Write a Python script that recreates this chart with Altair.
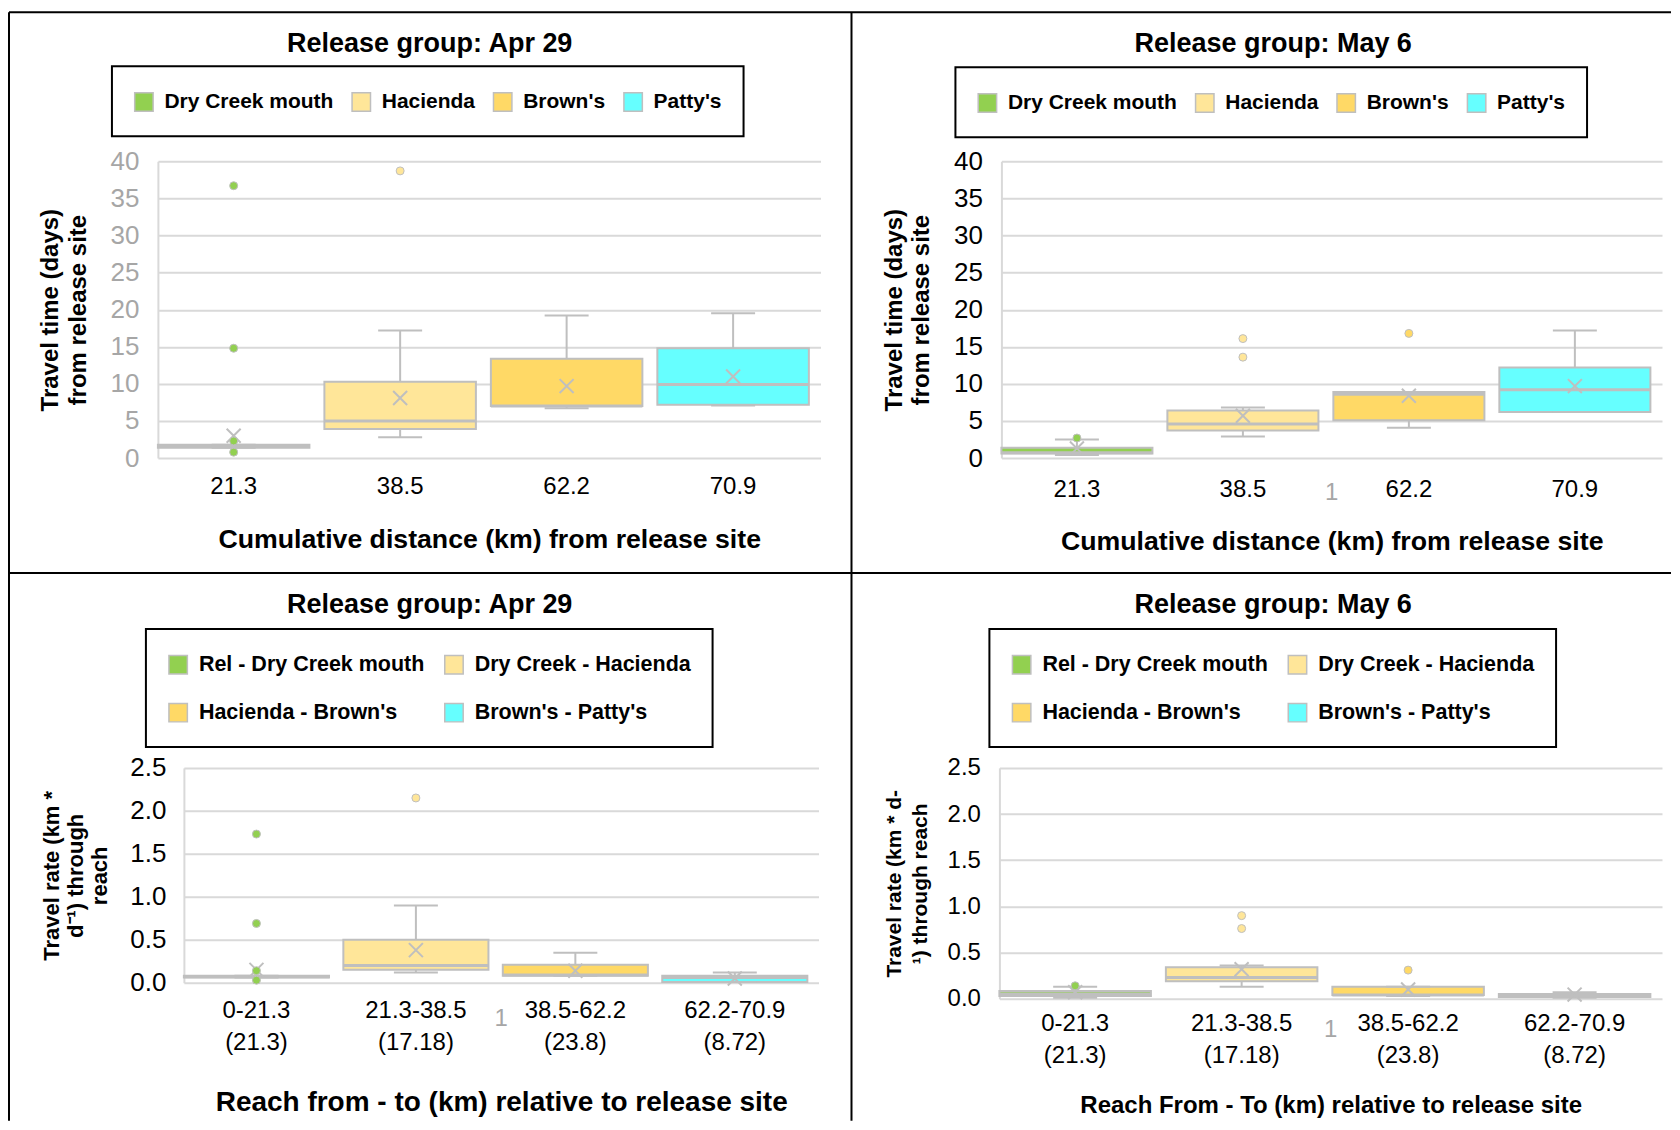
import altair as alt
import pandas as pd

FONT = "Liberation Sans, Arial, Helvetica, sans-serif"
GRAY = "#BFBFBF"
GRID = "#D9D9D9"
SERIES_COLORS = ["#92D050", "#FFE699", "#FFD966", "#66FFFF"]

# ---------------- data ----------------
top_cats = ["21.3", "38.5", "62.2", "70.9"]
top_series = ["Dry Creek mouth", "Hacienda", "Brown's", "Patty's"]
bot_cats = ["0-21.3|(21.3)", "21.3-38.5|(17.18)", "38.5-62.2|(23.8)", "62.2-70.9|(8.72)"]
bot_series = ["Rel - Dry Creek mouth", "Dry Creek - Hacienda", "Hacienda - Brown's", "Brown's - Patty's"]

# Release group Apr 29 - travel time (days)
apr_time_q1 = [1.4, 3.9, 7.0, 7.2]
apr_time_med = [1.6, 5.0, 7.0, 9.9]
apr_time_q3 = [1.8, 10.3, 13.4, 14.8]
apr_time_wlo = [1.4, 2.8, 6.7, 7.1]
apr_time_whi = [1.8, 17.2, 19.2, 19.5]
apr_time_mean = [3.0, 8.1, 9.7, 11.0]
apr_time_out = [[36.7, 14.8, 2.3, 0.8], [38.7], [], []]

# Release group May 6 - travel time (days)
may_time_q1 = [0.6, 3.7, 5.1, 6.2]
may_time_med = [0.7, 4.6, 8.6, 9.2]
may_time_q3 = [1.4, 6.4, 8.9, 12.2]
may_time_wlo = [0.4, 2.9, 4.1, 6.2]
may_time_whi = [2.5, 6.8, 8.9, 17.2]
may_time_mean = [1.3, 5.7, 8.4, 9.7]
may_time_out = [[2.7], [16.1, 13.6], [16.8], []]

# Release group Apr 29 - travel rate
apr_rate_q1 = [0.06, 0.15, 0.08, 0.01]
apr_rate_med = [0.07, 0.20, 0.09, 0.06]
apr_rate_q3 = [0.08, 0.50, 0.21, 0.08]
apr_rate_wlo = [0.06, 0.12, 0.08, 0.01]
apr_rate_whi = [0.08, 0.90, 0.35, 0.12]
apr_rate_mean = [0.15, 0.38, 0.14, 0.05]
apr_rate_out = [[1.73, 0.69, 0.14, 0.03], [2.15], [], []]

# Release group May 6 - travel rate
may_rate_q1 = [0.03, 0.19, 0.04, 0.02]
may_rate_med = [0.05, 0.23, 0.04, 0.03]
may_rate_q3 = [0.085, 0.34, 0.13, 0.05]
may_rate_wlo = [0.01, 0.13, 0.03, 0.01]
may_rate_whi = [0.13, 0.36, 0.13, 0.07]
may_rate_mean = [0.07, 0.32, 0.10, 0.045]
may_rate_out = [[0.14], [0.90, 0.76], [0.31], []]

top_yvals = [0, 5, 10, 15, 20, 25, 30, 35, 40]
bot_yvals = [0.0, 0.5, 1.0, 1.5, 2.0, 2.5]

PAD_IN, PAD_OUT = 0.09, 0.035
XPATH = "M-1,-1L1,1M1,-1L-1,1"


def panel(cats, series, q1, med, q3, wlo, whi, mean, outliers, *, width, height,
          ymax, yvals, yfmt, ytitle, ytitle_x, ytitle_lh, ytitle_size,
          ylabel_color, ylabel_size, ylabel_pad,
          xtitle, xtitle_y, xtitle_size, xlabel_pad, multiline,
          title, title_dx, title_offset, legend_cols, legend_x, legend_y,
          legend_font, legend_colpad, one_y=None):
    stats = pd.DataFrame({"cat": cats, "series": series, "q1": q1, "med": med,
                          "q3": q3, "wlo": wlo, "whi": whi, "mean": mean})
    rows = [{"cat": c, "series": s, "value": v}
            for c, s, vals in zip(cats, series, outliers) for v in vals]
    outs = pd.DataFrame(rows)
    step = width / (len(cats) - PAD_IN + 2 * PAD_OUT)
    bw = step * (1 - PAD_IN)

    xaxis_kw = dict(title=xtitle, labelAngle=0, ticks=False, domain=False, grid=False,
                    labelFont=FONT, labelFontSize=24, labelColor="black",
                    labelPadding=xlabel_pad, labelLimit=400,
                    titleFont=FONT, titleFontSize=xtitle_size, titleFontWeight="bold",
                    titleColor="black", titleY=xtitle_y, titleBaseline="middle")
    if multiline:
        xaxis_kw["labelExpr"] = "split(datum.label, '|')"
        xaxis_kw["labelLineHeight"] = 32
    xaxis = alt.Axis(**xaxis_kw)
    x = alt.X("cat:N", sort=cats,
              scale=alt.Scale(domain=cats, paddingInner=PAD_IN, paddingOuter=PAD_OUT, align=0),
              axis=xaxis)

    yaxis = alt.Axis(title=ytitle, values=yvals, format=yfmt, ticks=False,
                     domain=True, domainColor=GRID, domainWidth=2,
                     grid=True, gridColor=GRID, gridWidth=2,
                     labelFont=FONT, labelFontSize=ylabel_size, labelColor=ylabel_color,
                     labelPadding=ylabel_pad,
                     titleFont=FONT, titleFontSize=ytitle_size, titleFontWeight="bold",
                     titleColor="black", titleAngle=270, titleAlign="center",
                     titleBaseline="middle", titleX=ytitle_x, titleY=height / 2,
                     titleLineHeight=ytitle_lh)
    yscale = alt.Scale(domain=[0, ymax], nice=False, zero=True)

    def Y(f):
        return alt.Y(f"{f}:Q", scale=yscale, axis=yaxis)

    legend = alt.Legend(title=" ", titleFontSize=2, titlePadding=1.5,
                        orient="none", legendX=legend_x, legendY=legend_y,
                        direction="horizontal", columns=legend_cols,
                        symbolType="square", symbolSize=340,
                        symbolStrokeColor=GRAY, symbolStrokeWidth=1.5, symbolOpacity=1,
                        labelFont=FONT, labelFontSize=legend_font, labelFontWeight="bold",
                        labelColor="black", labelOffset=10, labelLimit=400,
                        columnPadding=legend_colpad, rowPadding=23, padding=21.5,
                        strokeColor="black")
    color = alt.Color("series:N", scale=alt.Scale(domain=series, range=SERIES_COLORS),
                      legend=legend)

    base = alt.Chart(stats)
    whisk = base.mark_rule(color=GRAY, strokeWidth=2).encode(x=x, y=Y("wlo"), y2="whi")
    box = base.mark_bar(stroke=GRAY, strokeWidth=2, opacity=1).encode(
        x=x, y=Y("q1"), y2="q3", color=color)
    medl = base.mark_tick(color=GRAY, thickness=3, size=bw, opacity=1).encode(x=x, y=Y("med"))
    cap_lo = base.mark_tick(color=GRAY, thickness=2, size=44, opacity=1).encode(x=x, y=Y("wlo"))
    cap_hi = base.mark_tick(color=GRAY, thickness=2, size=44, opacity=1).encode(x=x, y=Y("whi"))
    meanm = base.mark_point(shape=XPATH, filled=False, color=GRAY, strokeWidth=2,
                            size=196, opacity=1).encode(x=x, y=Y("mean"))
    outl = alt.Chart(outs).mark_circle(size=64, stroke=GRAY, strokeWidth=1, opacity=1).encode(
        x=x, y=Y("value"), color=color)
    layers = [whisk, box, medl, cap_lo, cap_hi, meanm, outl]
    if one_y is not None:
        one = alt.Chart(pd.DataFrame({"t": ["1"]})).mark_text(
            font=FONT, fontSize=24, color="#A6A6A6", baseline="middle", align="center"
        ).encode(x=alt.value(width / 2), y=alt.value(one_y), text="t:N")
        layers.append(one)

    return alt.layer(*layers).properties(
        width=width, height=height,
        title=alt.TitleParams(text=title, anchor="middle", frame="group", dx=title_dx,
                              offset=title_offset, font=FONT, fontSize=27,
                              fontWeight="bold", color="black"))


def spacer(w, h, borders=None):
    d = pd.DataFrame({"a": [0]})
    layers = [alt.Chart(d).mark_point(opacity=0).encode(x=alt.value(0), y=alt.value(0))]
    if borders:
        for b in borders:
            layers.append(alt.Chart(d).mark_rule(color="black", strokeWidth=2).encode(**b))
    return alt.layer(*layers).properties(width=w, height=h)


tl = panel(top_cats, top_series, apr_time_q1, apr_time_med, apr_time_q3, apr_time_wlo,
           apr_time_whi, apr_time_mean, apr_time_out,
           width=663, height=297, ymax=40, yvals=top_yvals, yfmt="d",
           ytitle=["Travel time (days)", "from release site"], ytitle_x=-107,
           ytitle_lh=28, ytitle_size=24, ylabel_color="#A6A6A6", ylabel_size=26,
           ylabel_pad=19, xtitle="Cumulative distance (km) from release site",
           xtitle_y=81, xtitle_size=26.7, xlabel_pad=16, multiline=False,
           title="Release group: Apr 29", title_dx=-59.5, title_offset=7,
           legend_cols=4, legend_x=-46, legend_y=-95, legend_font=21, legend_colpad=14.5)

tr = panel(top_cats, top_series, may_time_q1, may_time_med, may_time_q3, may_time_wlo,
           may_time_whi, may_time_mean, may_time_out,
           width=661, height=297, ymax=40, yvals=top_yvals, yfmt="d",
           ytitle=["Travel time (days)", "from release site"], ytitle_x=-107.4,
           ytitle_lh=27, ytitle_size=24, ylabel_color="black", ylabel_size=26,
           ylabel_pad=19, xtitle="Cumulative distance (km) from release site",
           xtitle_y=83, xtitle_size=26.7, xlabel_pad=19, multiline=False,
           title="Release group: May 6", title_dx=-58.5, title_offset=8,
           legend_cols=4, legend_x=-46, legend_y=-94, legend_font=21, legend_colpad=14.5,
           one_y=332)

bl = panel(bot_cats, bot_series, apr_rate_q1, apr_rate_med, apr_rate_q3, apr_rate_wlo,
           apr_rate_whi, apr_rate_mean, apr_rate_out,
           width=635, height=215, ymax=2.5, yvals=bot_yvals, yfmt=".1f",
           ytitle=["Travel rate (km *", "d\u207b\u00b9) through", "reach"], ytitle_x=-132.6,
           ytitle_lh=24, ytitle_size=22, ylabel_color="black", ylabel_size=26,
           ylabel_pad=18, xtitle="Reach from - to (km) relative to release site",
           xtitle_y=120, xtitle_size=28, xlabel_pad=16, multiline=True,
           title="Release group: Apr 29", title_dx=-71.5, title_offset=9,
           legend_cols=2, legend_x=-38, legend_y=-139, legend_font=21.5, legend_colpad=16,
           one_y=251)

br = panel(bot_cats, bot_series, may_rate_q1, may_rate_med, may_rate_q3, may_rate_wlo,
           may_rate_whi, may_rate_mean, may_rate_out,
           width=663, height=231, ymax=2.5, yvals=bot_yvals, yfmt=".1f",
           ytitle=["Travel rate (km * d-", "\u00b9) through reach"], ytitle_x=-105.4,
           ytitle_lh=26, ytitle_size=21, ylabel_color="black", ylabel_size=24,
           ylabel_pad=19, xtitle="Reach From - To (km) relative to release site",
           xtitle_y=106.5, xtitle_size=24, xlabel_pad=13, multiline=True,
           title="Release group: May 6", title_dx=-57.5, title_offset=9,
           legend_cols=2, legend_x=-10, legend_y=-139, legend_font=21.5, legend_colpad=16,
           one_y=262)

# border lines of the 2x2 table, placed relative to the spacer between the top panels
borders = [
    dict(x=alt.value(-812), x2=alt.value(851), y=alt.value(-149)),
    dict(x=alt.value(-812), x2=alt.value(851), y=alt.value(412)),
    dict(x=alt.value(-812), y=alt.value(-149), y2=alt.value(960)),
    dict(x=alt.value(31), y=alt.value(-149), y2=alt.value(960)),
]

sB = spacer(181, 10, borders)
sC = spacer(26, 10)
sD = spacer(181, 10)

RES = dict(x="independent", y="independent", color="independent")

row1 = alt.hconcat(tl, sB, tr, spacing=0, bounds="flush").resolve_scale(**RES).resolve_legend(color="independent")
row2 = alt.hconcat(sC, bl, sD, br, spacing=0, bounds="flush").resolve_scale(**RES).resolve_legend(color="independent")

chart = alt.vconcat(
    row1, row2, spacing=607, bounds="flush"
).resolve_scale(**RES).resolve_legend(color="independent").properties(
    padding={"left": 0, "top": 3, "right": 0, "bottom": 0},
    background="white",
).configure_view(
    stroke=None
).configure_legend(
    strokeWidth=2
)

chart.save("out.html", embed_options={"renderer": "svg", "actions": False})
